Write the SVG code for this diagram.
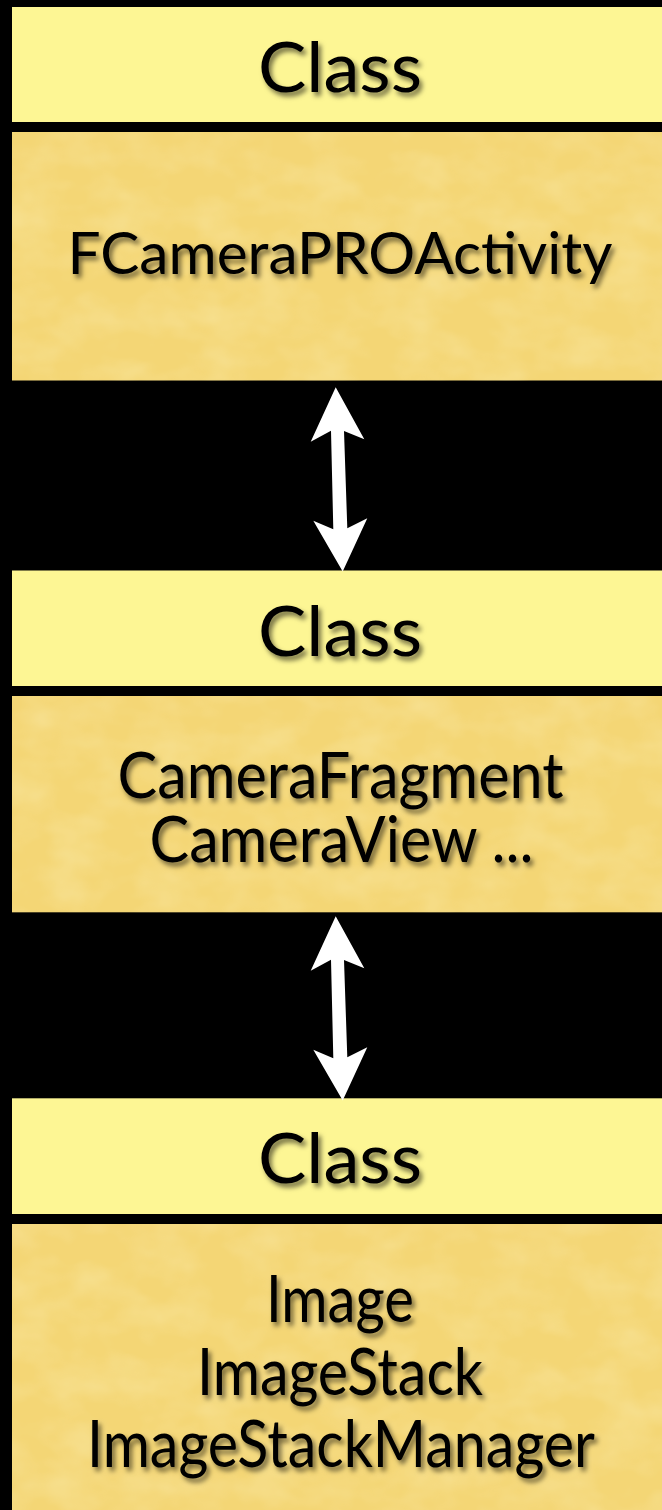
<svg xmlns="http://www.w3.org/2000/svg" width="662" height="1510" viewBox="0 0 662 1510">
  <style>
    .hdr { fill: #fdf694; }
    .body { fill: #f4d675; }
    .tex { fill: #000; filter: url(#paper); }
    .t { font-family: Lato, "Open Sans", "Liberation Sans", sans-serif; fill: #000; text-anchor: middle; filter: url(#shadow); }
    .arrow { fill: #fff; }
  </style>
  <defs>
    <filter id="shadow" x="-10%" y="-30%" width="120%" height="170%">
      <feDropShadow dx="3" dy="4" stdDeviation="2.6" flood-color="#000" flood-opacity="0.55"/>
    </filter>
    <filter id="paper" x="0" y="0" width="100%" height="100%">
      <feTurbulence type="fractalNoise" baseFrequency="0.02 0.03" numOctaves="3" seed="3" result="n"/>
      <feColorMatrix in="n" type="matrix" values="0 0 0 0 0.98  0 0 0 0 0.9  0 0 0 0 0.55  0.55 0 0 0 -0.2" result="c"/>
      <feComposite in="c" in2="SourceGraphic" operator="in"/>
    </filter>
    <polygon id="dblarrow" points="335.7,387.3 364.3,439.3 344,431 347.3,528.3 367.3,518.3 342.7,571.5 313.3,520.7 333.3,529.3 331,430.7 310.7,441.7"/>
  </defs>
  <rect x="0" y="0" width="662" height="1510" fill="#000"/>

  <g id="node1-header">
    <rect class="hdr" x="12" y="7" width="650" height="115"/>
    <text class="t" x="340" y="92" font-size="70" textLength="164" lengthAdjust="spacingAndGlyphs">Class</text>
  </g>
  <g id="node1-body">
    <rect class="body" x="12" y="132" width="650" height="248.5"/>
    <rect class="tex" x="12" y="132" width="650" height="248.5"/>
    <text class="t" x="340" y="274" font-size="58" textLength="545" lengthAdjust="spacingAndGlyphs">FCameraPROActivity</text>
  </g>

  <g id="node2-header">
    <rect class="hdr" x="12" y="570.5" width="650" height="115.5"/>
    <text class="t" x="340" y="656" font-size="70" textLength="164" lengthAdjust="spacingAndGlyphs">Class</text>
  </g>
  <g id="node2-body">
    <rect class="body" x="12" y="696" width="650" height="216.3"/>
    <rect class="tex" x="12" y="696" width="650" height="216.3"/>
    <text class="t" x="340.5" y="798" font-size="63" textLength="446" lengthAdjust="spacingAndGlyphs">CameraFragment</text>
    <text class="t" x="341.5" y="862" font-size="63" textLength="384" lengthAdjust="spacingAndGlyphs">CameraView ...</text>
  </g>

  <g id="node3-header">
    <rect class="hdr" x="12" y="1098.3" width="650" height="115.7"/>
    <text class="t" x="340" y="1183" font-size="70" textLength="164" lengthAdjust="spacingAndGlyphs">Class</text>
  </g>
  <g id="node3-body">
    <rect class="body" x="12" y="1224" width="650" height="286"/>
    <rect class="tex" x="12" y="1224" width="650" height="286"/>
    <text class="t" x="340" y="1322" font-size="65" textLength="148" lengthAdjust="spacingAndGlyphs">Image</text>
    <text class="t" x="340" y="1395" font-size="65" textLength="286" lengthAdjust="spacingAndGlyphs">ImageStack</text>
    <text class="t" x="341" y="1467" font-size="65" textLength="508" lengthAdjust="spacingAndGlyphs">ImageStackManager</text>
  </g>

  <g id="connectors">
    <use href="#dblarrow" class="arrow"/>
    <use href="#dblarrow" class="arrow" transform="translate(0,529)"/>
  </g>
</svg>
